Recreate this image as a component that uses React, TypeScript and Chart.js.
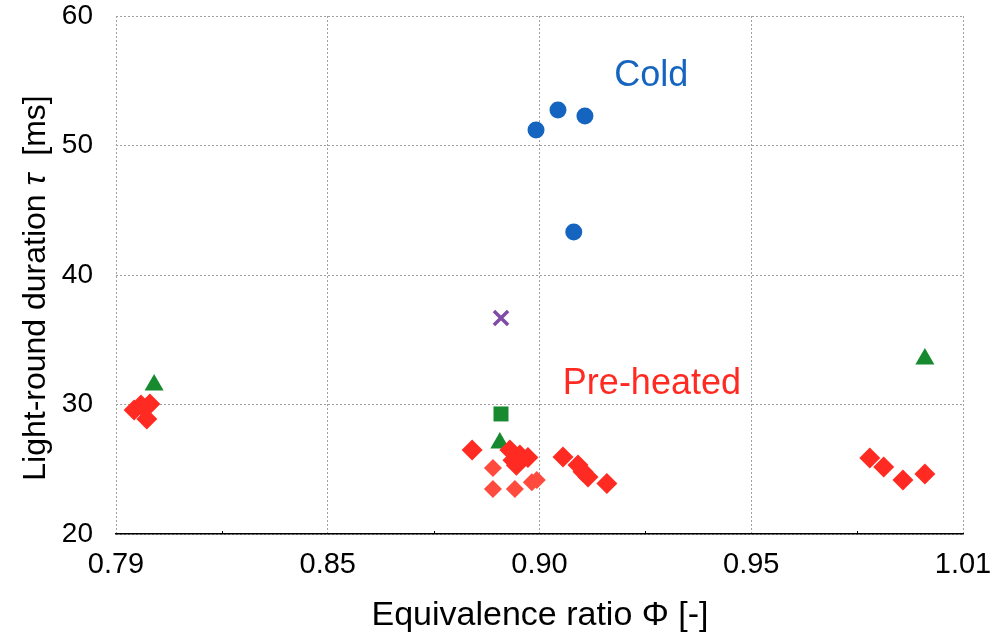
import React, { useEffect, useRef } from "react";
import { Chart, registerables } from "chart.js";

Chart.register(...registerables);

// ---- data ----
const X_TICKS = [0.79, 0.845, 0.9, 0.955, 1.01];
const X_TICK_LABELS = ["0.79", "0.85", "0.90", "0.95", "1.01"];
const Y_TICKS = [20, 30, 40, 50, 60];

const COLD_X = [0.8991, 0.9048, 0.9118, 0.9089];
const COLD_Y = [51.2, 52.74, 52.28, 43.32];

const PRE_X = [
  0.7947, 0.7965, 0.7988, 0.798,
  0.8825, 0.8923, 0.8931, 0.8949, 0.897, 0.894,
  0.9061, 0.91, 0.9113, 0.9126, 0.9175,
  0.9858, 0.9894, 0.9944, 1.0001,
];
const PRE_Y = [
  29.57, 29.96, 30.04, 28.88,
  26.49, 26.49, 25.7, 26.1, 25.9, 25.3,
  25.95, 25.33, 24.8, 24.4, 23.9,
  25.87, 25.17, 24.17, 24.63,
];

const PRE_LIGHT_X = [0.8879, 0.8879, 0.8936, 0.898, 0.8993];
const PRE_LIGHT_Y = [25.1, 23.48, 23.48, 24.0, 24.17];

const TRI_X = [0.7999, 0.8897, 1.0001];
const TRI_Y = [31.5, 27.03, 33.51];

const SQ_X = [0.89];
const SQ_Y = [29.27];

const CROSS_X = [0.89];
const CROSS_Y = [36.68];

const LABEL_COLD = { text: "Cold", x: 0.929, y: 55.37 };
const LABEL_PRE = { text: "Pre-heated", x: 0.9292, y: 31.58 };

const X_TITLE = "Equivalence ratio Φ [-]";
const Y_TITLE_PARTS = [
  { text: "Light-round duration ", italic: false },
  { text: "τ", italic: true },
  { text: "  [ms]", italic: false },
];

const FONT = '"Liberation Sans", Arial, sans-serif';
const BLUE = "#1565C0";
const RED = "#FF2B22";
const RED_LIGHT = "#FF4B3E";
const GREEN = "#178A30";
const PURPLE = "#7E4BA6";

const pts = (xs: number[], ys: number[]) => xs.map((x, i) => ({ x, y: ys[i] }));

const overlay = {
  id: "overlay",
  afterDraw(chart: any) {
    const { ctx, scales } = chart;
    const x = scales.x;
    const y = scales.y;
    ctx.save();
    // minor ticks on x axis
    ctx.strokeStyle = "#000";
    ctx.lineWidth = 1;
    for (let i = 0; i < X_TICKS.length - 1; i++) {
      const v = (X_TICKS[i] + X_TICKS[i + 1]) / 2;
      const px = Math.round(x.getPixelForValue(v)) + 0.5;
      ctx.beginPath();
      ctx.moveTo(px, y.bottom);
      ctx.lineTo(px, y.bottom - 3);
      ctx.stroke();
    }
    // annotations
    ctx.textAlign = "center";
    ctx.textBaseline = "middle";
    ctx.font = `36px ${FONT}`;
    ctx.fillStyle = BLUE;
    ctx.fillText(LABEL_COLD.text, x.getPixelForValue(LABEL_COLD.x), y.getPixelForValue(LABEL_COLD.y));
    ctx.fillStyle = RED;
    ctx.fillText(LABEL_PRE.text, x.getPixelForValue(LABEL_PRE.x), y.getPixelForValue(LABEL_PRE.y));

    // x title
    ctx.fillStyle = "#000";
    ctx.font = `34px ${FONT}`;
    ctx.fillText(X_TITLE, 540, 616);

    // y title (rotated)
    const fonts = Y_TITLE_PARTS.map((p) => (p.italic ? `italic 32px ${FONT}` : `32px ${FONT}`));
    const widths = Y_TITLE_PARTS.map((p, i) => {
      ctx.font = fonts[i];
      return ctx.measureText(p.text).width;
    });
    const total = widths.reduce((a, b) => a + b, 0);
    ctx.translate(36, 288);
    ctx.rotate(-Math.PI / 2);
    ctx.textAlign = "left";
    let cx = -total / 2;
    Y_TITLE_PARTS.forEach((p, i) => {
      ctx.font = fonts[i];
      ctx.fillText(p.text, cx, 0);
      cx += widths[i];
    });
    ctx.restore();
  },
};

export default function App() {
  const ref = useRef<HTMLCanvasElement | null>(null);
  useEffect(() => {
    if (!ref.current) return;
    const chart = new Chart(ref.current, {
      type: "scatter",
      data: {
        datasets: [
          {
            label: "Pre-heated",
            data: pts(PRE_X, PRE_Y),
            pointStyle: "rectRot",
            pointRadius: 10.5,
            backgroundColor: RED,
            borderWidth: 0,
          },
          {
            label: "Pre-heated (2)",
            data: pts(PRE_LIGHT_X, PRE_LIGHT_Y),
            pointStyle: "rectRot",
            pointRadius: 9,
            backgroundColor: RED_LIGHT,
            borderWidth: 0,
          },
          {
            label: "Cold",
            data: pts(COLD_X, COLD_Y),
            pointStyle: "circle",
            pointRadius: 8.5,
            backgroundColor: BLUE,
            borderWidth: 0,
          },
          {
            label: "Square",
            data: pts(SQ_X, SQ_Y),
            pointStyle: "rect",
            pointRadius: 10.6,
            backgroundColor: GREEN,
            borderWidth: 0,
          },
          {
            label: "Triangle",
            data: pts(TRI_X, TRI_Y),
            pointStyle: "triangle",
            pointRadius: 11,
            backgroundColor: GREEN,
            borderWidth: 0,
          },
          {
            label: "Cross",
            data: pts(CROSS_X, CROSS_Y),
            pointStyle: "crossRot",
            pointRadius: 10,
            borderColor: PURPLE,
            backgroundColor: PURPLE,
            borderWidth: 3.5,
          },
        ],
      },
      options: {
        animation: false,
        responsive: true,
        maintainAspectRatio: false,
        layout: { padding: { top: 16, right: 32, left: 0, bottom: 0 } },
        plugins: { legend: { display: false }, tooltip: { enabled: false } },
        scales: {
          x: {
            type: "linear",
            min: 0.79,
            max: 1.01,
            afterBuildTicks: (s: any) => {
              s.ticks = X_TICKS.map((v) => ({ value: v }));
            },
            afterFit: (s: any) => {
              s.height = 110;
              s.paddingLeft = 0;
              s.paddingRight = 0;
              s.paddingTop = 0;
              s.paddingBottom = 0;
            },
            ticks: {
              font: { family: FONT, size: 29 },
              color: "#000",
              padding: 14,
              maxRotation: 0,
              callback: (_v: any, i: number) => X_TICK_LABELS[i],
            },
            grid: {
              color: "#a0a0a0",
              lineWidth: 1,
              drawTicks: false,
            },
            border: { display: true, color: "#000", width: 1.5, dash: [2, 2] },
          },
          y: {
            type: "linear",
            min: 20,
            max: 60,
            afterBuildTicks: (s: any) => {
              s.ticks = Y_TICKS.map((v) => ({ value: v }));
            },
            afterFit: (s: any) => {
              s.width = 116;
              s.paddingLeft = 0;
              s.paddingRight = 0;
              s.paddingTop = 0;
              s.paddingBottom = 0;
            },
            ticks: {
              font: { family: FONT, size: 28 },
              color: "#000",
              padding: 23,
            },
            grid: {
              color: "#a0a0a0",
              lineWidth: 1,
              drawTicks: false,
            },
            border: { display: false, dash: [2, 2] },
          },
        },
      },
      plugins: [overlay],
    } as any);
    return () => chart.destroy();
  }, []);
  return (
    <div style={{ position: "absolute", left: 0, top: 0, width: 995, height: 644, background: "#fff" }}>
      <canvas ref={ref} />
    </div>
  );
}
